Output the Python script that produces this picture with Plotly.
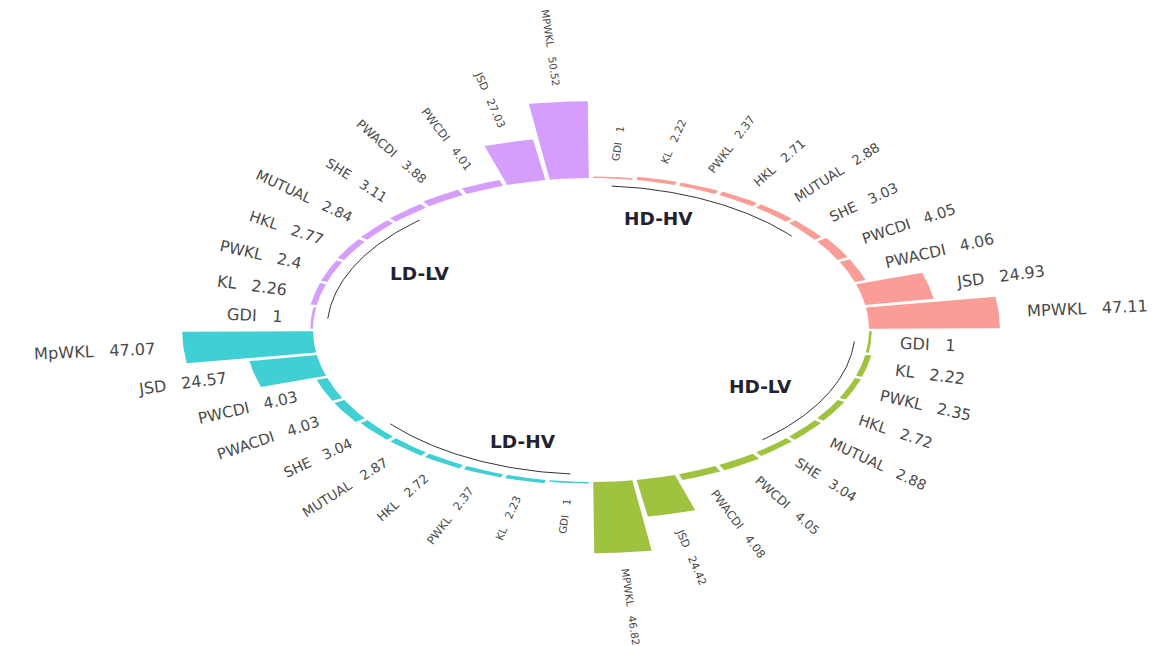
import math
import numpy as np
import plotly.graph_objects as go

# ---- data -----------------------------------------------------------------
groups = ["HD-HV", "HD-LV", "LD-HV", "LD-LV"]
group_colors = ["#FA9D97", "#9FC23F", "#40CFD3", "#D59EFC"]

hdhv_names = ["GDI", "KL", "PWKL", "HKL", "MUTUAL", "SHE", "PWCDI", "PWACDI", "JSD", "MPWKL"]
hdhv_values = [1, 2.22, 2.37, 2.71, 2.88, 3.03, 4.05, 4.06, 24.93, 47.11]

hdlv_names = ["GDI", "KL", "PWKL", "HKL", "MUTUAL", "SHE", "PWCDI", "PWACDI", "JSD", "MPWKL"]
hdlv_values = [1, 2.22, 2.35, 2.72, 2.88, 3.04, 4.05, 4.08, 24.42, 46.82]

ldhv_names = ["GDI", "KL", "PWKL", "HKL", "MUTUAL", "SHE", "PWACDI", "PWCDI", "JSD", "MpWKL"]
ldhv_values = [1, 2.23, 2.37, 2.72, 2.87, 3.04, 4.03, 4.03, 24.57, 47.07]

ldlv_names = ["GDI", "KL", "PWKL", "HKL", "MUTUAL", "SHE", "PWACDI", "PWCDI", "JSD", "MPWKL"]
ldlv_values = [1, 2.26, 2.4, 2.77, 2.84, 3.11, 3.88, 4.01, 27.03, 50.52]

group_names = [hdhv_names, hdlv_names, ldhv_names, ldlv_names]
group_values = [hdhv_values, hdlv_values, ldhv_values, ldlv_values]

# ---- layout constants -----------------------------------------------------
W, H = 1174, 646
X_RANGE = [-212.6, 209.7]
Y_RANGE = [-207.9, 217.1]
KX = W / (X_RANGE[1] - X_RANGE[0])   # px per data unit, horizontal
KY = H / (Y_RANGE[1] - Y_RANGE[0])   # px per data unit, vertical

HOLE = 100.0        # empty radius in the middle (value 0 sits here)
BAR_WIDTH = 0.9     # fraction of the angular slot used by a bar
LABEL_PAD = 10.0    # gap between bar end and its label
BASE_R = -5.0       # radius of the group underline (relative to the hole)
TITLE_R = -18.0     # radius of the group titles
F0, P = 10.3, 0.75  # label font size and its growth with horizontal stretch
LABEL_FONT = "DejaVu Sans"
LABEL_COLOR = "#4a4a4a"

CHAR_W = {  # DejaVu Sans advance widths (em)
    "A": .684, "C": .698, "D": .770, "E": .632, "G": .775, "H": .752, "I": .295,
    "J": .295, "K": .656, "L": .557, "M": .863, "P": .603, "S": .635, "T": .611,
    "U": .732, "W": .989, "V": .684, "p": .635, ".": .318, " ": .318, "\u00a0": .318,
    "-": .361,
}


def text_em(s):
    return sum(CHAR_W.get(c, .636) for c in s)


n_per_group = len(hdhv_values)
n_bars = n_per_group * len(groups)
step = 360.0 / n_bars


def xy(r, theta_deg):
    t = np.radians(theta_deg)
    return r * np.sin(t), r * np.cos(t)


fig = go.Figure()
annotations = []

for g, (gname, names, vals, color) in enumerate(zip(groups, group_names, group_values, group_colors)):
    xs, ys = [], []
    for j, (name, v) in enumerate(zip(names, vals)):
        idx = g * n_per_group + j
        tc = (idx + 0.5) * step
        t0, t1 = tc - BAR_WIDTH * step / 2, tc + BAR_WIDTH * step / 2
        outer = np.linspace(t0, t1, 14)
        inner = outer[::-1]
        ox, oy = xy(HOLE + v, outer)
        ix, iy = xy(HOLE, inner)
        xs += list(ox) + list(ix) + [ox[0], None]
        ys += list(oy) + list(iy) + [oy[0], None]

        # label, laid along the radius
        rad = math.radians(tc)
        ux, uy = KX * math.sin(rad), KY * math.cos(rad)
        norm = math.hypot(ux, uy)
        ux, uy = ux / norm, uy / norm
        stretch = norm / KY
        fsize = F0 * stretch ** P
        label = f"{name}\u00a0\u00a0\u00a0{v:g}"
        length = text_em(label) * fsize
        r_lab = HOLE + v + LABEL_PAD
        ax, ay = xy(r_lab, tc)
        off = length / 2 + 1
        cx = ax + off * ux / KX
        cy = ay + off * uy / KY
        if tc < 180:
            ang = -math.degrees(math.atan2(uy, ux))
        else:
            ang = -math.degrees(math.atan2(-uy, -ux))
        annotations.append(dict(
            x=cx, y=cy, xref="x", yref="y", text=label, showarrow=False,
            textangle=ang, xanchor="center", yanchor="middle",
            font=dict(family=LABEL_FONT, size=fsize, color=LABEL_COLOR),
        ))

    fig.add_trace(go.Scatter(
        x=xs, y=ys, mode="lines", fill="toself", fillcolor=color,
        line=dict(width=0, color=color), hoverinfo="skip", showlegend=False,
    ))

    # group underline from the first to the sixth bar
    a0 = (g * n_per_group + 0.5) * step
    a1 = (g * n_per_group + 5.5) * step
    arc = np.linspace(a0, a1, 60)
    bx, by = xy(HOLE + BASE_R, arc)
    fig.add_trace(go.Scatter(
        x=bx, y=by, mode="lines", line=dict(color="#333333", width=1),
        hoverinfo="skip", showlegend=False,
    ))

    # group title
    ta = (a0 + a1) / 2
    tx, ty = xy(HOLE + TITLE_R, ta)
    annotations.append(dict(
        x=tx, y=ty, xref="x", yref="y", text=f"<b>{gname}</b>", showarrow=False,
        xanchor="right" if ta < 180 else "left", yanchor="middle",
        font=dict(family="DejaVu Sans", size=18.5, color="#222233"),
    ))

fig.update_layout(
    width=W, height=H,
    margin=dict(l=0, r=0, t=0, b=0),
    paper_bgcolor="white", plot_bgcolor="white",
    xaxis=dict(range=X_RANGE, visible=False, fixedrange=True),
    yaxis=dict(range=Y_RANGE, visible=False, fixedrange=True),
    annotations=annotations,
    showlegend=False,
)

fig.write_html("out.html")
